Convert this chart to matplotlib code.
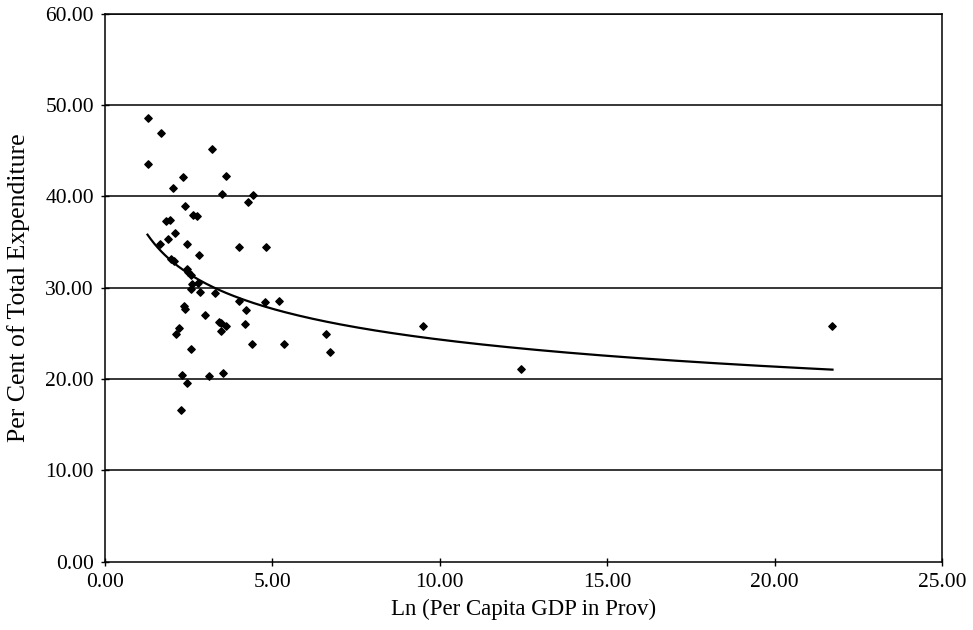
import numpy as np
import matplotlib.pyplot as plt

# Ln per capita GDP vs share of total expenditure
ln_gdp = [1.27, 1.66, 1.27, 3.21, 2.34, 3.61, 2.04, 3.50, 4.42, 4.26,
          2.40, 2.62, 2.74, 1.82, 1.94, 2.08, 1.64, 1.89, 2.45, 3.99,
          4.82, 2.82, 1.96, 2.07, 2.44, 2.49, 2.57, 2.78, 2.59, 2.56,
          2.85, 3.28, 3.99, 4.77, 5.21, 2.37, 2.40, 4.21, 3.00, 3.40,
          3.48, 3.60, 3.47, 4.17, 2.22, 2.12, 2.58, 4.40, 2.29, 3.12,
          3.53, 2.45, 2.27, 5.34, 6.59, 6.72, 9.49, 12.43, 21.73]
pct_exp = [48.51, 46.92, 43.55, 45.14, 42.06, 42.16, 40.87, 40.27, 40.17, 39.38,
           38.88, 37.89, 37.79, 37.25, 37.39, 36.00, 34.76, 35.31, 34.81, 34.42,
           34.42, 33.52, 33.12, 32.93, 32.03, 31.74, 31.34, 30.54, 30.35, 29.85,
           29.55, 29.45, 28.56, 28.46, 28.56, 28.01, 27.66, 27.56, 26.97, 26.28,
           26.08, 25.78, 25.28, 25.98, 25.53, 24.88, 23.30, 23.79, 20.42, 20.32,
           20.62, 19.52, 16.55, 23.79, 24.88, 22.90, 25.78, 21.11, 25.83]

x_ticks = [0, 5, 10, 15, 20, 25]
y_ticks = [0, 10, 20, 30, 40, 50, 60]

plt.rcParams['font.family'] = ['Liberation Serif', 'DejaVu Serif']

fig = plt.figure(figsize=(9.73, 6.30), dpi=100)
ax = fig.add_axes([0.1079, 0.1087, 0.8602, 0.8698])

x = np.array(ln_gdp)
y = np.array(pct_exp)

# power trendline, fitted on logs
b, log_a = np.polyfit(np.log(x), np.log(y), 1)
xs = np.linspace(x.min(), x.max(), 200)
ax.plot(xs, np.exp(log_a) * xs ** b, color='black', lw=1.6, zorder=3)

ax.scatter(x, y, marker='D', s=14, color='black', zorder=4)

for v in y_ticks[1:]:
    ax.axhline(v, color='black', lw=1.1, zorder=1)

ax.set_xlim(0, 25)
ax.set_ylim(0, 60)
ax.set_xticks(x_ticks)
ax.set_yticks(y_ticks)
ax.set_xticklabels([f'{v:.2f}' for v in x_ticks])
ax.set_yticklabels([f'{v:.2f}' for v in y_ticks])
ax.tick_params(axis='both', labelsize=15.5, direction='inout', length=6, width=1)
ax.tick_params(axis='x', pad=5)
ax.tick_params(axis='y', pad=5)
for s in ax.spines.values():
    s.set_linewidth(1.1)

ax.set_xlabel('Ln (Per Capita GDP in Prov)', fontsize=16.5, labelpad=5)
ax.set_ylabel('Per Cent of Total Expenditure', fontsize=18.5, labelpad=11)

fig.savefig('out.png', dpi=100)
